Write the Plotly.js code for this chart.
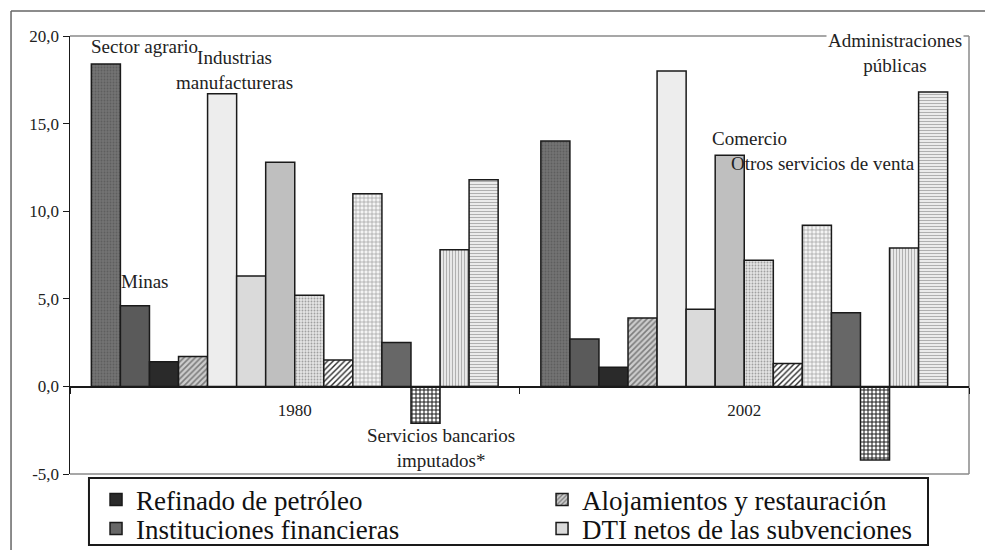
<!DOCTYPE html>
<html>
<head>
<meta charset="utf-8">
<script src="https://cdn.plot.ly/plotly-3.0.1.min.js"></script>
<style>
  html, body { margin: 0; padding: 0; background: #ffffff; }
  #chart { width: 985px; height: 550px; }
</style>
</head>
<body>
<div id="chart"></div>
<script>
// ---- data ----
const years = ['1980', '2002'];

const sectorAgrario      = [18.4, 14.0];
const minas              = [4.6, 2.7];
const refinado           = [1.4, 1.1];
const alojamientos       = [1.7, 3.9];
const industrias         = [16.7, 18.0];
const dtiNetos           = [6.3, 4.4];
const comercio           = [12.8, 13.2];
const otrosServicios     = [5.2, 7.2];
const ramaBarra9         = [1.5, 1.3];
const ramaBarra10        = [11.0, 9.2];
const instituciones      = [2.5, 4.2];
const serviciosBancarios = [-2.1, -4.2];
const ramaBarra13        = [7.8, 7.9];
const administraciones   = [11.8, 16.8];

const yTickVals = [-5, 0, 5, 10, 15, 20];
const yTickText = ['-5,0', '0,0', '5,0', '10,0', '15,0', '20,0'];
const gridVals  = [5, 10, 15];

// ---- styling ----
const FONT = '"Liberation Serif", "Times New Roman", serif';
const OUT = { color: '#1a1a1a', width: 1.5 };

function bar(name, values, style, legendId) {
  const marker = { color: style.color, line: OUT };
  if (style.pattern) marker.pattern = style.pattern;
  return {
    type: 'bar',
    name: name,
    x: years,
    y: values,
    marker: marker,
    showlegend: !!legendId,
    legend: legendId || 'legend',
    hoverinfo: 'skip'
  };
}

const data = [
  bar('Sector agrario', sectorAgrario, { color: '#6a6a6a', pattern: { shape: '.', fgcolor: '#5e5e5e', bgcolor: '#737373', size: 3, solidity: 0.3 } }),
  bar('Minas', minas, { color: '#5a5a5a' }),
  bar('Refinado de petróleo', refinado, { color: '#2a2a2a' }, 'legend'),
  bar('Alojamientos y restauración', alojamientos, { color: '#b0b0b0', pattern: { shape: '/', fgcolor: '#7c7c7c', bgcolor: '#cdcdcd', size: 4, solidity: 0.4 } }, 'legend2'),
  bar('Industrias manufactureras', industrias, { color: '#ededed' }),
  bar('DTI netos de las subvenciones', dtiNetos, { color: '#dadada' }, 'legend4'),
  bar('Comercio', comercio, { color: '#bfbfbf' }),
  bar('Otros servicios de venta', otrosServicios, { color: '#d4d4d4', pattern: { shape: '.', fgcolor: '#a0a0a0', bgcolor: '#e4e4e4', size: 3, solidity: 0.3 } }),
  bar('Rama (barra 9)', ramaBarra9, { color: '#888888', pattern: { shape: '/', fgcolor: '#2a2a2a', bgcolor: '#ffffff', size: 4, solidity: 0.35 } }),
  bar('Rama (barra 10)', ramaBarra10, { color: '#dddddd', pattern: { shape: '+', fgcolor: '#9a9a9a', bgcolor: '#f4f4f4', size: 4, solidity: 0.3 } }),
  bar('Instituciones financieras', instituciones, { color: '#676767' }, 'legend3'),
  bar('Servicios bancarios imputados*', serviciosBancarios, { color: '#555555', pattern: { shape: '+', fgcolor: '#1e1e1e', bgcolor: '#ffffff', size: 4, solidity: 0.45 } }),
  bar('Rama (barra 13)', ramaBarra13, { color: '#dddddd', pattern: { shape: '|', fgcolor: '#b0b0b0', bgcolor: '#efefef', size: 3, solidity: 0.4 } }),
  bar('Administraciones públicas', administraciones, { color: '#e0e0e0', pattern: { shape: '-', fgcolor: '#b0b0b0', bgcolor: '#f3f3f3', size: 3, solidity: 0.4 } })
];

const annFont = { family: FONT, size: 19, color: '#222222' };
function ann(text, x, y, extra) {
  return Object.assign({ text: text, x: x, y: y, xref: 'paper', yref: 'paper',
    xanchor: 'center', yanchor: 'middle', showarrow: false, font: annFont }, extra || {});
}

function legendAt(x, y) {
  return {
    x: x, y: y, xref: 'container', yref: 'container',
    xanchor: 'left', yanchor: 'middle',
    orientation: 'v',
    font: { family: FONT, size: 27, color: '#111111' },
    bgcolor: 'rgba(0,0,0,0)',
    borderwidth: 0
  };
}

const layout = {
  width: 985,
  height: 550,
  margin: { l: 70, r: 16, t: 36, b: 76, autoexpand: false },
  paper_bgcolor: '#ffffff',
  plot_bgcolor: '#ffffff',
  font: { family: FONT, size: 17, color: '#222222' },
  barmode: 'group',
  bargap: 0.095,
  bargroupgap: 0,
  xaxis: {
    type: 'category',
    anchor: 'free',
    position: 0.2,
    showline: true,
    linecolor: '#1a1a1a',
    linewidth: 1.5,
    ticks: 'outside',
    tickson: 'boundaries',
    ticklen: 6,
    tickcolor: '#1a1a1a',
    ticklabelstandoff: 8,
    tickfont: { family: FONT, size: 17, color: '#222222' },
    showgrid: false,
    zeroline: false,
    layer: 'above traces'
  },
  yaxis: {
    range: [-5, 20],
    tickvals: yTickVals,
    ticktext: yTickText,
    showgrid: false,
    zeroline: false,
    showline: true,
    linecolor: '#1a1a1a',
    linewidth: 1.5,
    ticks: 'outside',
    ticklen: 6,
    tickcolor: '#1a1a1a',
    tickfont: { family: FONT, size: 17, color: '#222222' },
    layer: 'above traces'
  },
  yaxis2: {
    overlaying: 'y',
    range: [-5, 20],
    tickvals: gridVals,
    showgrid: true,
    gridcolor: '#333333',
    gridwidth: 1.2,
    showticklabels: false,
    ticks: '',
    showline: false,
    zeroline: false
  },
  legend:  legendAt(0.0975, 0.0909),
  legend2: legendAt(0.5503, 0.0909),
  legend3: legendAt(0.0975, 0.0382),
  legend4: legendAt(0.5503, 0.0382),
  shapes: [
    // plot-area frame (top, right, bottom)
    { type: 'line', xref: 'paper', yref: 'paper', x0: 0, x1: 1, y0: 1, y1: 1, line: { color: '#8a8a8a', width: 1.5 }, layer: 'below' },
    { type: 'line', xref: 'paper', yref: 'paper', x0: 1, x1: 1, y0: 0, y1: 1, line: { color: '#8a8a8a', width: 1.5 }, layer: 'below' },
    { type: 'line', xref: 'paper', yref: 'paper', x0: 0, x1: 1, y0: 0, y1: 0, line: { color: '#8a8a8a', width: 1.5 }, layer: 'below' },
    // outer chart frame (top and left edges)
    { type: 'line', xref: 'paper', yref: 'paper', x0: -0.0656, x1: 1.02, y0: 1.0571, y1: 1.0571, line: { color: '#666666', width: 1.5 } },
    { type: 'line', xref: 'paper', yref: 'paper', x0: -0.0656, x1: -0.0656, y0: -0.2, y1: 1.0571, line: { color: '#666666', width: 1.5 } },
    // legend box
    { type: 'rect', xref: 'paper', yref: 'paper', x0: 0.0211, x1: 0.9544, y0: -0.1621, y1: -0.0091, line: { color: '#1a1a1a', width: 2 }, fillcolor: 'rgba(0,0,0,0)' }
  ],
  annotations: [
    ann('Sector agrario', 0.0834, 0.9749),
    ann('Industrias<br>manufactureras', 0.1835, 0.9235),
    ann('Minas', 0.0834, 0.4384),
    ann('Servicios bancarios<br>imputados*', 0.4127, 0.0605),
    ann('Comercio', 0.7553, 0.7671),
    ann('Otros servicios de venta', 0.8376, 0.7100),
    ann('Administraciones<br>públicas', 0.9182, 0.9623, { bgcolor: '#ffffff' })
  ]
};

Plotly.newPlot('chart', data, layout, { displayModeBar: false, staticPlot: true });
</script>
</body>
</html>
